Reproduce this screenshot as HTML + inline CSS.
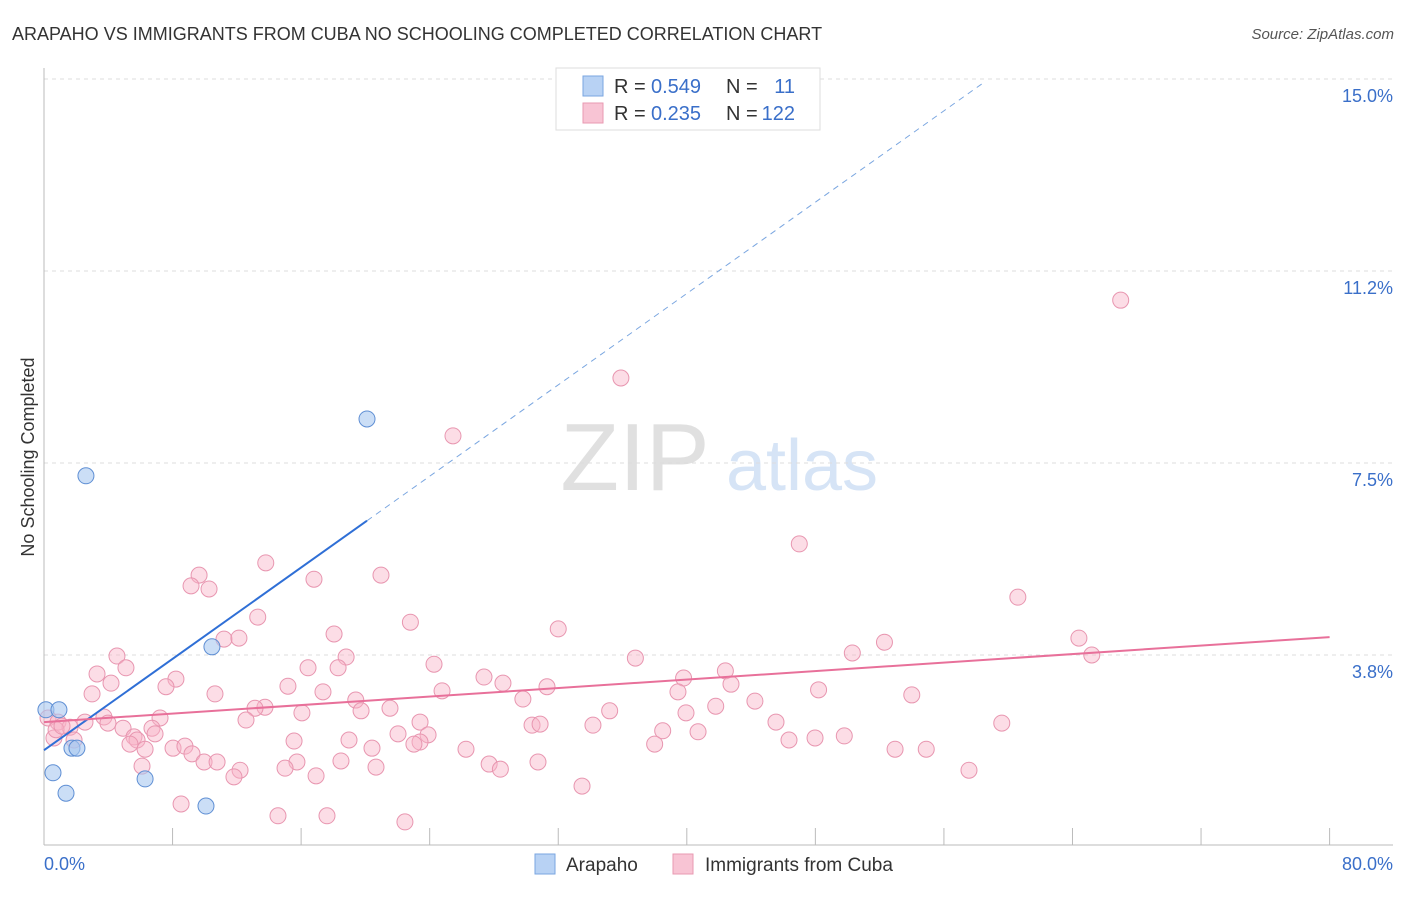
<!DOCTYPE html>
<html><head><meta charset="utf-8"><style>
body{margin:0;background:#fff;font-family:"Liberation Sans",sans-serif;}
svg text{font-family:"Liberation Sans",sans-serif;}
</style></head><body>
<svg id="chart" width="1406" height="892" xmlns="http://www.w3.org/2000/svg">
<text x="12" y="40" font-size="18" fill="#333">ARAPAHO VS IMMIGRANTS FROM CUBA NO SCHOOLING COMPLETED CORRELATION CHART</text>
<text x="1394" y="39" font-size="15" fill="#555" text-anchor="end" font-style="italic">Source: ZipAtlas.com</text>
<text transform="translate(34,457) rotate(-90)" font-size="18" fill="#333" text-anchor="middle">No Schooling Completed</text>
<g>
<text x="635" y="490" font-size="96" fill="#e0e0e0" text-anchor="middle" font-family="Liberation Serif">ZIP</text>
<text x="802" y="490" font-size="72" fill="#d6e4f6" text-anchor="middle">atlas</text>
</g>
<g id="grid"></g><g id="axes"></g><g id="marks"></g>
<g>
<rect x="556" y="68" width="264" height="62" fill="#fff" stroke="#ddd"/>
<rect x="583" y="76" width="20" height="20" fill="#b8d2f4" stroke="#7aa6e0"/>
<text x="614" y="93" font-size="20" fill="#333">R =</text>
<text x="651" y="93" font-size="20" fill="#3a6fc9">0.549</text>
<text x="726" y="93" font-size="20" fill="#333">N =</text>
<text x="795" y="93" font-size="20" fill="#3a6fc9" text-anchor="end">11</text>
<rect x="583" y="103" width="20" height="20" fill="#f8c4d4" stroke="#e89ab2"/>
<text x="614" y="120" font-size="20" fill="#333">R =</text>
<text x="651" y="120" font-size="20" fill="#3a6fc9">0.235</text>
<text x="726" y="120" font-size="20" fill="#333">N =</text>
<text x="795" y="120" font-size="20" fill="#3a6fc9" text-anchor="end">122</text>
</g>
<g>
<rect x="535" y="854" width="20" height="20" fill="#b8d2f4" stroke="#7aa6e0"/>
<text x="566" y="871" font-size="19" fill="#333">Arapaho</text>
<rect x="673" y="854" width="20" height="20" fill="#f8c4d4" stroke="#e89ab2"/>
<text x="705" y="871" font-size="19" fill="#333">Immigrants from Cuba</text>
</g>
</svg>
<script>
const yTicks=[3.75,7.5,11.25,15];
const yTickLabels=["3.8%","7.5%","11.2%","15.0%"];
const xTicks=[0,8,16,24,32,40,48,56,64,72,80];
const arapahoX=[0.12,0.93,0.56,1.37,1.74,2.05,2.61,6.29,10.08,10.45,20.1];
const arapahoY=[2.68,2.68,1.45,1.05,1.93,1.93,7.25,1.33,0.80,3.91,8.36];
const cubaX=[67.0,35.9,25.45,47.0,13.8,9.65,20.97,16.8,9.15,10.27,60.6,13.3,22.8,32.0,18.05,11.2,12.13,64.4,52.3,4.54,18.8,36.8,50.3,65.2,24.27,16.43,18.3,5.1,3.3,8.21,39.8,42.4,4.17,42.75,15.18,7.59,24.77,31.3,28.56,27.38,17.36,39.45,48.2,2.99,10.64,54.0,19.4,29.8,44.24,13.75,13.13,19.73,21.53,41.8,16.05,35.2,39.95,7.22,3.73,0.25,0.87,12.57,3.98,23.4,45.55,30.37,30.87,34.16,6.72,1.62,2.55,4.92,22.03,23.9,38.5,40.7,5.6,5.79,6.91,0.62,1.87,5.35,15.56,18.98,23.4,23.02,6.29,8.03,8.77,38.0,46.36,47.98,49.8,20.41,9.21,26.26,52.96,54.9,9.96,10.77,15.74,18.48,30.74,27.7,28.4,20.66,6.1,12.2,11.82,15.0,16.93,59.6,57.56,8.53,14.56,17.61,22.46,33.48,0.75,1.12];
const cubaY=[10.68,9.16,8.03,5.92,5.55,5.31,5.31,5.23,5.10,5.04,4.88,4.49,4.39,4.26,4.16,4.06,4.08,4.08,4.00,3.73,3.71,3.69,3.79,3.75,3.57,3.50,3.50,3.50,3.38,3.28,3.30,3.44,3.20,3.18,3.14,3.13,3.05,3.13,3.20,3.32,3.03,3.03,3.07,2.99,2.99,2.97,2.87,2.89,2.85,2.73,2.71,2.66,2.71,2.75,2.62,2.66,2.62,2.52,2.54,2.52,2.44,2.48,2.42,2.44,2.44,2.38,2.40,2.38,2.32,2.34,2.44,2.32,2.21,2.19,2.27,2.25,2.15,2.09,2.21,2.13,2.09,2.01,2.07,2.09,2.05,2.01,1.91,1.93,1.97,2.01,2.09,2.13,2.17,1.93,1.82,1.91,1.91,1.91,1.66,1.66,1.66,1.68,1.66,1.62,1.52,1.56,1.58,1.50,1.37,1.54,1.39,2.42,1.50,0.84,0.61,0.61,0.49,1.19,2.29,2.36];
const arapahoTrend=[1.89,0.223];
const cubaTrend=[2.44,0.02075];
const NS="http://www.w3.org/2000/svg";
const xs=v=>44+v*16.07, ys=v=>847-v*51.2;
function mk(tag,attrs,parent){const e=document.createElementNS(NS,tag);for(const k in attrs)e.setAttribute(k,attrs[k]);document.getElementById(parent).appendChild(e);return e;}
yTicks.forEach((t,i)=>{
 const g=mk('line',{x1:44,x2:1393,y1:ys(t),y2:ys(t),stroke:'#ddd','stroke-dasharray':'4,4'},'grid');
 
 
 const l=mk('text',{x:1393,y:ys(t)+23,'font-size':18,fill:'#3a6fc9','text-anchor':'end'},'axes');
 l.textContent=yTickLabels[i];
 
 
});
const ax=mk('line',{x1:44,x2:1393,y1:845,y2:845,stroke:'#bbb'},'axes');


const ay=mk('line',{x1:44,x2:44,y1:68,y2:845,stroke:'#bbb'},'axes');


xTicks.forEach(t=>{
 const tk=mk('line',{x1:xs(t),x2:xs(t),y1:828,y2:845,stroke:'#bbb'},'axes');
 
 
});
[["0.0%",44,'start'],["80.0%",1393,'end']].forEach(a=>{
 const l=mk('text',{x:a[1],y:870,'font-size':18,fill:'#3a6fc9','text-anchor':a[2]},'axes');
 l.textContent=a[0];
 
 
});
cubaX.forEach((x,i)=>{
 const c=mk('circle',{cx:xs(x),cy:ys(cubaY[i]),r:8,fill:'rgba(248,180,200,0.45)',stroke:'#e896b0','stroke-width':1},'marks');
 
 
});
arapahoX.forEach((x,i)=>{
 const c=mk('circle',{cx:xs(x),cy:ys(arapahoY[i]),r:8,fill:'rgba(168,200,240,0.6)',stroke:'#5f8fd4','stroke-width':1},'marks');
 
 
});
const ax0=0, ax1=Math.max(...arapahoX), axEnd=58.56;
const bl=mk('line',{x1:xs(ax0),y1:ys(arapahoTrend[0]),x2:xs(ax1),y2:ys(arapahoTrend[0]+arapahoTrend[1]*ax1),stroke:'#2f6fd6','stroke-width':2},'marks');


const bd=mk('line',{x1:xs(ax1),y1:ys(arapahoTrend[0]+arapahoTrend[1]*ax1),x2:xs(axEnd),y2:ys(arapahoTrend[0]+arapahoTrend[1]*axEnd),stroke:'#7aa6e0','stroke-width':1,'stroke-dasharray':'6,5'},'marks');


const pl=mk('line',{x1:xs(0),y1:ys(cubaTrend[0]),x2:xs(80),y2:ys(cubaTrend[0]+cubaTrend[1]*80),stroke:'#e8709a','stroke-width':2},'marks');


</script>
</body></html>
